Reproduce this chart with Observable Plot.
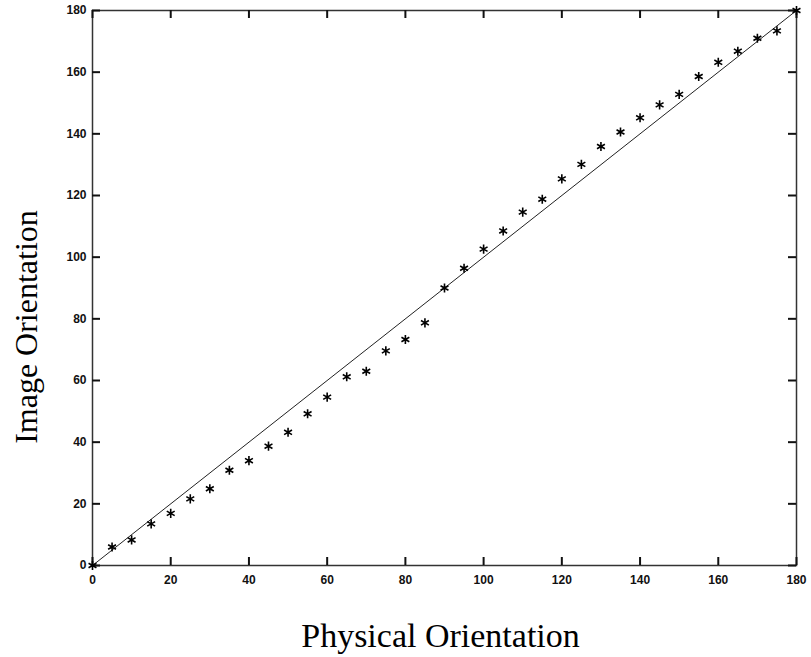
<!DOCTYPE html>
<html>
<head>
<meta charset="utf-8">
<script src="https://cdn.jsdelivr.net/npm/d3@7"></script>
<script src="https://cdn.jsdelivr.net/npm/@observablehq/plot@0.6"></script>
<style>
  html, body { margin: 0; padding: 0; background: #fff; }
</style>
</head>
<body>
<div id="chart"></div>
<script>
const physical = [0, 5, 10, 15, 20, 25, 30, 35, 40, 45, 50, 55, 60, 65, 70, 75, 80, 85, 90,
  95, 100, 105, 110, 115, 120, 125, 130, 135, 140, 145, 150, 155, 160, 165, 170, 175, 180];
const imageOrient = [0, 6.0, 8.3, 13.5, 16.9, 21.6, 24.9, 30.9, 34.0, 38.7, 43.2, 49.2, 54.6, 61.2, 63.0, 69.6, 73.3, 78.7, 90.0,
  96.4, 102.6, 108.5, 114.6, 118.8, 125.4, 130.1, 135.9, 140.6, 145.2, 149.4, 152.8, 158.6, 163.2, 166.8, 171.0, 173.4, 180];
const diagX = [0, 180];
const diagY = [0, 180];
const xTicks = [0, 20, 40, 60, 80, 100, 120, 140, 160, 180];
const yTicks = [0, 20, 40, 60, 80, 100, 120, 140, 160, 180];
const xTitle = "Physical Orientation";
const yTitle = "Image Orientation";

const points = physical.map((p, i) => ({p, v: imageOrient[i]}));
const diag = diagX.map((x, i) => ({x, y: diagY[i]}));

const W = 811, H = 657, mL = 92, mR = 15, mT = 10, mB = 92;
const innerW = W - mL - mR, innerH = H - mT - mB;
const tickLen = 8;
const tickFont = "'Liberation Sans', Arial, sans-serif";
const titleFont = "'Liberation Serif', 'Times New Roman', serif";
const tickStyle = {stroke: "#111", strokeWidth: 2};

const chart = Plot.plot({
  width: W, height: H,
  marginLeft: mL, marginRight: mR, marginTop: mT, marginBottom: mB,
  x: {domain: [0, 180]},
  y: {domain: [0, 180]},
  style: {background: "#fff", overflow: "visible"},
  marks: [
    Plot.frame({stroke: "#333", strokeWidth: 1.5}),
    // inward tick marks on all four sides
    Plot.ruleX(xTicks, {x: d => d, insetTop: innerH - tickLen, ...tickStyle}),
    Plot.ruleX(xTicks, {x: d => d, insetBottom: innerH - tickLen, ...tickStyle}),
    Plot.ruleY(yTicks, {y: d => d, insetRight: innerW - tickLen, ...tickStyle}),
    Plot.ruleY(yTicks, {y: d => d, insetLeft: innerW - tickLen, ...tickStyle}),
    Plot.axisX({ticks: xTicks, anchor: "bottom", tickSize: 0, tickPadding: 10, label: null,
      fontSize: 12, fontWeight: "bold", fontFamily: tickFont, fill: "#111"}),
    Plot.axisY({ticks: yTicks, anchor: "left", tickSize: 0, tickPadding: 6, label: null,
      fontSize: 12, fontWeight: "bold", fontFamily: tickFont, fill: "#111"}),
    Plot.line(diag, {x: "x", y: "y", stroke: "#222", strokeWidth: 1}),
    Plot.dot(points, {x: "p", y: "v", symbol: "asterisk", r: 4.3, stroke: "#000", strokeWidth: 1.6}),
    Plot.text([xTitle], {text: d => d, frameAnchor: "bottom", textAnchor: "middle", lineAnchor: "bottom",
      dy: 81, dx: -4, fontSize: 34, fontFamily: titleFont, fill: "#000"}),
    Plot.text([yTitle], {text: d => d, frameAnchor: "left", textAnchor: "middle", lineAnchor: "middle",
      rotate: -90, dx: -66, dy: 39, fontSize: 32, fontFamily: titleFont, fill: "#000"})
  ]
});
document.getElementById("chart").appendChild(chart);
</script>
</body>
</html>
